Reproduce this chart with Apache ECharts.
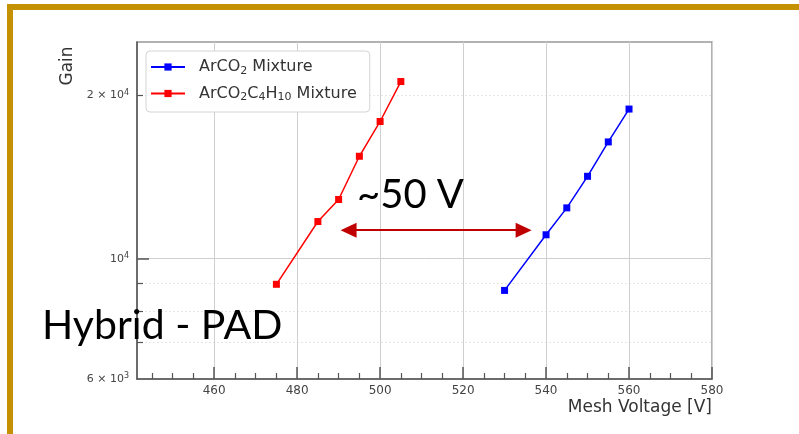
<!DOCTYPE html>
<html>
<head>
<meta charset="utf-8">
<script src="https://cdn.jsdelivr.net/npm/echarts@6/dist/echarts.min.js"></script>
<style>
  html, body { margin: 0; padding: 0; background: #fff; }
  #chart { width: 799px; height: 434px; }
</style>
</head>
<body>
<div id="chart"></div>
<script>
// data
const voltArCO2 = [530, 540, 545, 550, 555, 560]
const gainArCO2 = [8740, 11070, 12410, 14190, 16420, 18880]
const voltArCO2C4H10 = [475, 485, 490, 495, 500, 505]
const gainArCO2C4H10 = [8970, 11710, 12860, 15450, 17910, 21220]

const xMajorTicks = [460, 480, 500, 520, 540, 560, 580]
const xMinorTicks = [445, 450, 455, 465, 470, 475, 485, 490, 495, 505, 510, 515,
  525, 530, 535, 545, 550, 555, 565, 570, 575]
const yLabelTicks = [6000, 10000, 20000]
const yMajorTicks = [10000]
const yMinorTicks = [7000, 8000, 9000, 20000]
const yLabelText = { 6000: '{b|6 × 10}{p|3}', 10000: '{b|10}{p|4}', 20000: '{b|2 × 10}{p|4}' }

const arrowGain = 11290
const arrowFrom = 492.4
const arrowTo = 534.6

const GOLD = '#c49102'
const AXIS = '#555'
const FONT = 'DejaVu Sans'

function pairs(xs, ys) {
  return xs.map((x, i) => [x, ys[i]])
}

const legendRich = {
  'ArCO₂ Mixture': '{n|ArCO}{s|2}{n| Mixture}',
  'ArCO₂C₄H₁₀ Mixture': '{n|ArCO}{s|2}{n|C}{s|4}{n|H}{s|10}{n| Mixture}',
}

const xRange = { min: 441.4, max: 580 }
const yRange = { min: 6000, max: 25100 }

const option = {
  animation: false,
  backgroundColor: '#fff',
  grid: {
    left: 137,
    top: 42,
    right: 87,
    bottom: 55,
    show: true,
    borderColor: '#999',
    borderWidth: 1.5,
    backgroundColor: 'transparent',
  },
  legend: {
    orient: 'vertical',
    left: 146,
    top: 51,
    data: ['ArCO₂ Mixture', 'ArCO₂C₄H₁₀ Mixture'],
    itemWidth: 34,
    itemHeight: 9,
    itemGap: 9,
    padding: [8, 13, 9, 4],
    backgroundColor: '#fff',
    borderColor: '#d4d4d4',
    borderWidth: 1,
    borderRadius: 4,
    formatter: name => legendRich[name],
    textStyle: {
      padding: [0, 0, 0, 9],
      rich: {
        n: { fontFamily: FONT, fontSize: 16, color: '#333', lineHeight: 19 },
        s: { fontFamily: FONT, fontSize: 11, color: '#333', lineHeight: 12, verticalAlign: 'bottom' },
      },
    },
  },
  xAxis: [
    {
      type: 'value',
      min: xRange.min,
      max: xRange.max,
      axisLine: { show: true, lineStyle: { color: AXIS, width: 1.5 } },
      axisTick: { show: true, inside: true, length: 12, customValues: xMajorTicks, lineStyle: { color: AXIS, width: 1.5 } },
      axisLabel: {
        customValues: xMajorTicks,
        margin: 6,
        fontFamily: FONT,
        fontSize: 12,
        color: '#444',
      },
      splitLine: { show: true, lineStyle: { color: '#cfcfcf', width: 1 } },
    },
    {
      type: 'value',
      position: 'bottom',
      min: xRange.min,
      max: xRange.max,
      axisLine: { show: false },
      axisTick: { show: true, inside: true, length: 6, customValues: xMinorTicks, lineStyle: { color: AXIS, width: 1.2 } },
      axisLabel: { show: false },
      splitLine: { show: false },
    },
  ],
  yAxis: [
    {
      type: 'log',
      logBase: 10,
      min: yRange.min,
      max: yRange.max,
      axisLine: { show: true, lineStyle: { color: AXIS, width: 1.5 } },
      axisTick: { show: true, inside: true, length: 12, customValues: yMajorTicks, lineStyle: { color: AXIS, width: 1.5 } },
      axisLabel: {
        customValues: yLabelTicks,
        margin: 8,
        formatter: v => yLabelText[Math.round(v)] || '',
        rich: {
          b: { fontFamily: FONT, fontSize: 11, color: '#444', lineHeight: 14 },
          p: { fontFamily: FONT, fontSize: 8, color: '#444', lineHeight: 14, verticalAlign: 'top' },
        },
      },
      splitLine: { show: true, lineStyle: { color: '#cfcfcf', width: 1 } },
    },
    {
      type: 'log',
      logBase: 10,
      position: 'left',
      min: yRange.min,
      max: yRange.max,
      axisLine: { show: false },
      axisTick: { show: true, inside: true, length: 6, customValues: yMinorTicks, lineStyle: { color: AXIS, width: 1.2 } },
      axisLabel: { show: false },
      splitLine: { show: true, lineStyle: { color: '#e6e6e6', width: 1, type: [2, 2] } },
    },
  ],
  series: [
    {
      name: 'ArCO₂ Mixture',
      type: 'line',
      color: '#0000ff',
      symbol: 'rect',
      symbolSize: 7,
      lineStyle: { width: 1.5 },
      z: 3,
      data: pairs(voltArCO2, gainArCO2),
    },
    {
      name: 'ArCO₂C₄H₁₀ Mixture',
      type: 'line',
      color: '#ff0000',
      symbol: 'rect',
      symbolSize: 7,
      lineStyle: { width: 1.5 },
      z: 3,
      data: pairs(voltArCO2C4H10, gainArCO2C4H10),
      markLine: {
        silent: true,
        symbol: ['triangle', 'triangle'],
        symbolSize: [15, 16],
        label: { show: false },
        lineStyle: { color: '#c00000', width: 2, type: 'solid' },
        emphasis: { disabled: true },
        data: [[{ coord: [arrowFrom, arrowGain] }, { coord: [arrowTo, arrowGain] }]],
      },
    },
  ],
  graphic: [
    { type: 'rect', left: 7, top: 4, shape: { width: 792, height: 6 }, style: { fill: GOLD } },
    { type: 'rect', left: 7, top: 4, shape: { width: 6, height: 430 }, style: { fill: GOLD } },
    {
      type: 'text', x: 68, y: 66, rotation: Math.PI / 2,
      style: { text: 'Gain', fontFamily: FONT, fontSize: 17, fill: '#333', align: 'center', verticalAlign: 'middle' },
    },
    {
      type: 'text', x: 712, y: 408,
      style: { text: 'Mesh Voltage [V]', fontFamily: FONT, fontSize: 17, fill: '#333', align: 'right', verticalAlign: 'middle' },
    },
    {
      type: 'text', x: 357, y: 175, z: 10,
      style: { text: '~50 V', fontFamily: 'Lato', fontSize: 40, fill: '#000', align: 'left', verticalAlign: 'top' },
    },
    {
      type: 'text', x: 42, y: 305, z: 10,
      style: { text: 'Hybrid - PAD', fontFamily: 'Lato', fontSize: 41, fill: '#000', align: 'left', verticalAlign: 'top' },
    },
  ],
}

const chart = echarts.init(document.getElementById('chart'))
chart.setOption(option)
</script>
</body>
</html>
